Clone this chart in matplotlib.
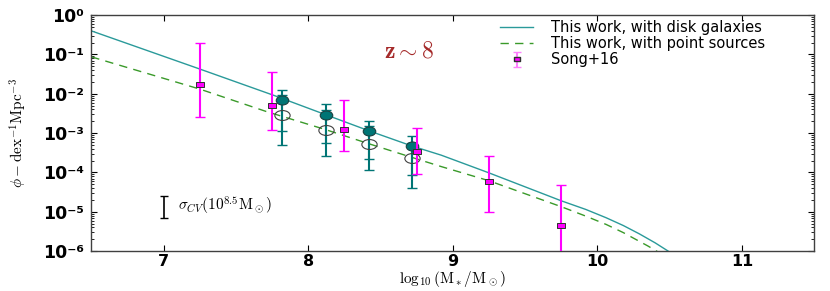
import numpy as np
import matplotlib
matplotlib.use('Agg')
import matplotlib.pyplot as plt
from matplotlib.path import Path
from matplotlib.transforms import Affine2D
from matplotlib.ticker import LogLocator, NullFormatter
from matplotlib.lines import Line2D

plt.rcParams['mathtext.fontset'] = 'cm'
plt.rcParams['font.family'] = ['DejaVu Sans']

# ---- data ----
disk_curve_logm = [6.5, 7.25, 7.77, 8.12, 8.42, 8.72, 8.92, 9.25, 9.75, 9.92, 10.06, 10.18,
                   10.29, 10.40, 10.49, 10.55]
disk_curve_logphi = [-0.40, -1.37, -2.05, -2.53, -2.94, -3.33, -3.56, -4.01, -4.72, -4.94, -5.15,
                     -5.35, -5.56, -5.79, -6.0, -6.14]

ps_curve_logm = [6.5, 7.25, 7.71, 8.12, 8.42, 8.72, 8.92, 9.25, 9.75, 9.92, 10.06, 10.18,
                 10.29, 10.35, 10.41, 10.47]
ps_curve_logphi = [-1.06, -1.88, -2.45, -2.91, -3.27, -3.62, -3.85, -4.21, -4.87, -5.11, -5.32,
                   -5.53, -5.75, -5.87, -6.0, -6.13]

tw_logm = [7.82, 8.12, 8.42, 8.72]
tw_disk_logphi = [-2.16, -2.53, -2.94, -3.33]
tw_disk_logphi_hi = [-1.91, -2.27, -2.70, -3.08]
tw_disk_logphi_lo = [-3.31, -3.58, -3.94, -4.39]
tw_ps_logphi = [-2.54, -2.91, -3.27, -3.62]
tw_ps_logphi_hi = [-2.03, -2.41, -2.83, -3.24]
tw_ps_logphi_lo = [-2.94, -3.24, -3.66, -4.06]

song_logm = [7.25, 7.75, 8.25, 8.75, 9.25, 9.75]
song_logphi = [-1.74, -2.28, -2.89, -3.45, -4.22, -5.33]
song_logphi_hi = [-0.72, -1.44, -2.15, -2.88, -3.59, -4.33]
song_logphi_lo = [-2.59, -2.93, -3.46, -4.05, -5.00, -7.00]

cv_logm = 7.0
cv_logphi_hi = -4.61
cv_logphi_lo = -5.16

xticks = [7, 8, 9, 10, 11]
xtick_labels = ['7', '8', '9', '10', '11']
yticks_exp = [0, -1, -2, -3, -4, -5, -6]
ytick_labels = ['10⁰', '10⁻¹', '10⁻²', '10⁻³', '10⁻⁴', '10⁻⁵', '10⁻⁶']

legend_labels = ['This work, with disk galaxies', 'This work, with point sources', 'Song+16']

# ---- helpers ----
def p10(v):
    return np.power(10.0, np.asarray(v, dtype=float))

def yerr_from(center, lo, hi):
    c = p10(center)
    return [c - p10(lo), p10(hi) - c]

ell_fill = Affine2D().scale(1.0, 0.72).transform_path(Path.unit_circle())
ell_open = Affine2D().scale(1.0, 0.65).transform_path(Path.unit_circle())
rect = Path([(-1, -0.6), (1, -0.6), (1, 0.6), (-1, 0.6), (-1, -0.6)],
            [Path.MOVETO, Path.LINETO, Path.LINETO, Path.LINETO, Path.CLOSEPOLY])

teal_line = '#2a9a9a'
teal_pt = '#007575'
green = '#3a9a2a'
magenta = '#ff00ff'

fig = plt.figure(figsize=(8.30, 2.91), dpi=100)
ax = fig.add_axes([0.110, 0.137, 0.871, 0.811])

ax.plot(disk_curve_logm, p10(disk_curve_logphi), '-', color=teal_line, lw=1.0,
        label=legend_labels[0], zorder=2)
ax.plot(ps_curve_logm, p10(ps_curve_logphi), '--', color=green, lw=1.0,
        dashes=(6, 4.5), label=legend_labels[1], zorder=2)

eb = ax.errorbar(tw_logm, p10(tw_disk_logphi),
                 yerr=yerr_from(tw_disk_logphi, tw_disk_logphi_lo, tw_disk_logphi_hi),
                 fmt='none', ecolor=teal_pt, elinewidth=1.5, capsize=3.5, capthick=1.0, zorder=3)
for c in eb[1]:
    c.set_color('#7fbfbf')
eb2 = ax.errorbar(tw_logm, p10(tw_ps_logphi),
                  yerr=yerr_from(tw_ps_logphi, tw_ps_logphi_lo, tw_ps_logphi_hi),
                  fmt='none', ecolor=teal_pt, elinewidth=1.5, capsize=3.5, capthick=1.0, zorder=3)
for c in eb2[1]:
    c.set_color('#7fbfbf')

ax.plot(tw_logm, p10(tw_disk_logphi), linestyle='none', marker=ell_fill, markersize=9,
        markerfacecolor=teal_pt, markeredgecolor='#1a4040', markeredgewidth=0.8, zorder=4)
ax.plot(tw_logm, p10(tw_ps_logphi), linestyle='none', marker=ell_open, markersize=11,
        markerfacecolor='none', markeredgecolor='#404040', markeredgewidth=0.8, zorder=4)

ebs = ax.errorbar(song_logm, p10(song_logphi),
                  yerr=yerr_from(song_logphi, song_logphi_lo, song_logphi_hi),
                  fmt='none', ecolor=magenta, elinewidth=1.5, capsize=3.5, capthick=1.0, zorder=5)
for c in ebs[1]:
    c.set_color('#ff80ff')
ax.plot(song_logm, p10(song_logphi), linestyle='none', marker=rect, markersize=6,
        markerfacecolor=magenta, markeredgecolor='#303030', markeredgewidth=0.7, zorder=6)

song_proxy_h = ax.errorbar([np.nan], [np.nan], yerr=[[1], [1]], fmt='none', ecolor='#ff80ff',
                           elinewidth=1.5, capsize=3)
sq = Line2D([], [], linestyle='none', marker=rect, markersize=5,
            markerfacecolor=magenta, markeredgecolor='#303030')

cv_c = np.sqrt(p10(cv_logphi_hi) * p10(cv_logphi_lo))
ax.errorbar([cv_logm], [cv_c], yerr=[[cv_c - p10(cv_logphi_lo)], [p10(cv_logphi_hi) - cv_c]],
            fmt='none', ecolor='black', elinewidth=1.2, capsize=3, capthick=1.0, zorder=5)
ax.text(7.1, p10(-4.86), r'$\sigma_{CV}(10^{8.5}{\rm M_\odot})$', fontsize=11,
        va='center', ha='left')

ax.text(8.70, p10(-0.90), r'$\mathbf{z\sim8}$', fontsize=17, color='#a52a2a',
        ha='center', va='center')

ax.set_yscale('log')
ax.set_xlim(6.5, 11.5)
ax.set_ylim(1e-6, 1.0)
ax.set_xticks(xticks)
ax.set_xticklabels(xtick_labels, fontsize=11.5, fontweight='bold')
ax.set_yticks(p10(yticks_exp))
ax.set_yticklabels(ytick_labels, fontsize=12.5, fontweight='bold')
ax.yaxis.set_minor_locator(LogLocator(base=10, subs=np.arange(2, 10)))
ax.yaxis.set_minor_formatter(NullFormatter())
ax.tick_params(which='both', direction='in', top=True, right=True)
ax.tick_params(which='major', length=4, width=0.8)
ax.tick_params(which='minor', length=2, width=0.6)
ax.tick_params(axis='x', pad=2)
ax.tick_params(axis='y', pad=5)
for s in ax.spines.values():
    s.set_color('#404040')
    s.set_linewidth(1.0)

ax.set_xlabel(r'$\log_{10}({\rm M_*/M_\odot})$', fontsize=11, labelpad=0)
ax.set_ylabel(r'$\phi-{\rm dex}^{-1}{\rm Mpc}^{-3}$', fontsize=11, labelpad=10)

handles, labels = ax.get_legend_handles_labels()
h_lines = handles[:2]
leg = ax.legend(h_lines + [(song_proxy_h, sq)], legend_labels, loc='upper right',
                bbox_to_anchor=(0.95, 1.035), frameon=False, fontsize=10.5,
                handlelength=2.3, labelspacing=0.08, handletextpad=1.2, numpoints=1)

fig.savefig('out.png', dpi=100)
